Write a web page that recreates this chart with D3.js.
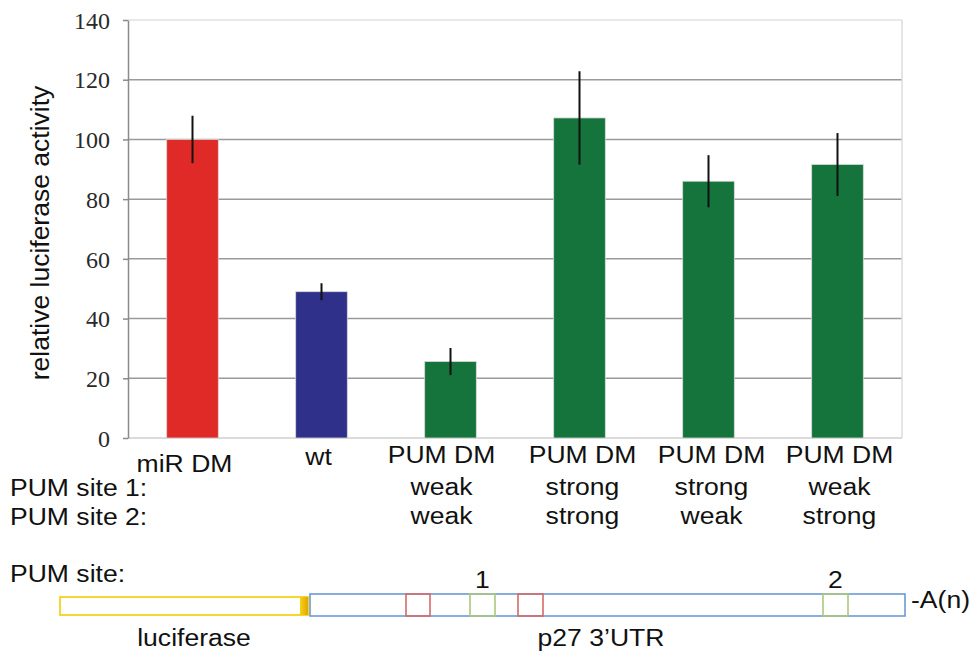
<!DOCTYPE html>
<html>
<head>
<meta charset="utf-8">
<script src="https://cdn.jsdelivr.net/npm/d3@7"></script>
<style>
  html, body { margin: 0; padding: 0; background: #fff; }
  svg { display: block; }
  .sans { font-family: "Liberation Sans", Arial, Helvetica, sans-serif; fill: #111; }
  .serif { font-family: "Liberation Serif", "Times New Roman", serif; fill: #2a2a2a; }
</style>
</head>
<body>
<svg id="chart" width="970" height="656"></svg>
<script>
// Relative luciferase activity of p27 3'UTR reporter constructs
const categories = ["miR DM", "wt", "PUM DM ww", "PUM DM ss", "PUM DM sw", "PUM DM ws"];
const nameLine = ["miR DM", "wt", "PUM DM", "PUM DM", "PUM DM", "PUM DM"];
const site1 = ["", "", "weak", "strong", "strong", "weak"];
const site2 = ["", "", "weak", "strong", "weak", "strong"];
const values = [100, 49, 25.6, 107.2, 86, 91.6];
const errors = [7.6, 2.5, 4.2, 15.3, 8.4, 10.2];
const barColors = ["#e02a27", "#2e3089", "#14743b", "#14743b", "#14743b", "#14743b"];
const yTicks = [0, 20, 40, 60, 80, 100, 120, 140];

// Construct schematic (positions along the reporter, arbitrary units)
const lucSegment = { start: 0, end: 248 };
const utrSegment = { start: 250, end: 845 };
const pumSites = [
  { label: "1", start: 410, end: 435 },
  { label: "2", start: 763, end: 788 }
];
const mirSites = [{ start: 346, end: 370 }, { start: 458, end: 483 }];

const svg = d3.select("#chart");
const stretch = 1.13;

function sansText(parent, x, y, str, anchor, size) {
  return parent.append("text")
    .attr("class", "sans")
    .attr("transform", `translate(${x},${y}) scale(${stretch},1)`)
    .attr("text-anchor", anchor)
    .style("font-size", (size || 23.5) + "px")
    .text(str);
}

const margin = { left: 128, right: 902, top: 20, bottom: 438 };

const x = d3.scaleBand()
  .domain(categories)
  .range([margin.left, margin.right])
  .paddingInner(0.6)
  .paddingOuter(0.3);

const y = d3.scaleLinear()
  .domain([0, 140])
  .range([margin.bottom, margin.top]);

// Gridlines
svg.append("g")
  .selectAll("line")
  .data(yTicks.filter(t => t > 0 && t < 140))
  .join("line")
  .attr("x1", margin.left).attr("x2", margin.right)
  .attr("y1", d => y(d)).attr("y2", d => y(d))
  .attr("stroke", "#9a9a9a").attr("stroke-width", 1.5);

// Plot frame (top and right light)
svg.append("line")
  .attr("x1", margin.left).attr("x2", margin.right)
  .attr("y1", y(140)).attr("y2", y(140))
  .attr("stroke", "#e4e0e0").attr("stroke-width", 1.5);
svg.append("line")
  .attr("x1", margin.right).attr("x2", margin.right)
  .attr("y1", y(140)).attr("y2", y(0))
  .attr("stroke", "#dcdcdc").attr("stroke-width", 1.5);
svg.append("line")
  .attr("x1", margin.left).attr("x2", margin.right)
  .attr("y1", y(0)).attr("y2", y(0))
  .attr("stroke", "#cfcfcf").attr("stroke-width", 1.5);

// Bars
svg.append("g")
  .selectAll("rect")
  .data(categories)
  .join("rect")
  .attr("x", d => x(d))
  .attr("width", x.bandwidth())
  .attr("y", (d, i) => y(values[i]))
  .attr("height", (d, i) => y(0) - y(values[i]))
  .attr("fill", (d, i) => barColors[i])
  .attr("stroke", "#d8d8d8")
  .attr("stroke-width", 0.8);

// Error bars
svg.append("g")
  .selectAll("line")
  .data(categories)
  .join("line")
  .attr("x1", d => x(d) + x.bandwidth() / 2)
  .attr("x2", d => x(d) + x.bandwidth() / 2)
  .attr("y1", (d, i) => y(values[i] + errors[i]))
  .attr("y2", (d, i) => y(values[i] - errors[i]))
  .attr("stroke", "#111")
  .attr("stroke-width", 2)
  .attr("stroke-linecap", "square");

// Y axis
const yAxis = d3.axisLeft(y).tickValues(yTicks).tickSize(5).tickPadding(13).tickSizeOuter(0);
const yg = svg.append("g")
  .attr("transform", `translate(${margin.left},0)`)
  .call(yAxis);
yg.attr("font-size", null).attr("font-family", null);
yg.select(".domain").attr("stroke", "#8a8a8a").attr("stroke-width", 1.5);
yg.selectAll(".tick line").attr("stroke", "#8a8a8a").attr("stroke-width", 1.5);
yg.selectAll(".tick text")
  .attr("class", "serif")
  .attr("fill", null)
  .style("font-size", "24px")
  .attr("dy", "0.34em");

// Y axis title
svg.append("text")
  .attr("class", "sans")
  .attr("transform", `translate(49,233) rotate(-90)`)
  .attr("text-anchor", "middle")
  .style("font-size", "26.5px")
  .text("relative luciferase activity");

// Category labels
const labelShift = [-8, -3, -9, 3, 3, 2];
const nameBaseline = [472, 465, 463, 463, 463, 463];
categories.forEach((c, i) => {
  const cx = x(c) + x.bandwidth() / 2 + labelShift[i];
  sansText(svg, cx, nameBaseline[i], nameLine[i], "middle");
  if (site1[i]) sansText(svg, cx, 495, site1[i], "middle");
  if (site2[i]) sansText(svg, cx, 524, site2[i], "middle");
});
sansText(svg, 10, 496, "PUM site 1:", "start");
sansText(svg, 10, 525, "PUM site 2:", "start");

// Construct schematic
const cx = d3.scaleLinear().domain([0, 845]).range([60, 905]);
const diag = svg.append("g");
sansText(diag, 10, 582, "PUM site:", "start");

const lucGrad = svg.append("defs").append("linearGradient")
  .attr("id", "lucEnd").attr("x1", "0").attr("x2", "1");
lucGrad.append("stop").attr("offset", "0").attr("stop-color", "#f6d21c");
lucGrad.append("stop").attr("offset", "1").attr("stop-color", "#e0a800");

diag.append("rect")
  .attr("x", cx(lucSegment.start)).attr("y", 597)
  .attr("width", cx(lucSegment.end) - cx(lucSegment.start)).attr("height", 18)
  .attr("fill", "none").attr("stroke", "#f7d21e").attr("stroke-width", 1.8);
diag.append("rect")
  .attr("x", cx(lucSegment.end) - 8).attr("y", 597)
  .attr("width", 8).attr("height", 18)
  .attr("fill", "url(#lucEnd)");

diag.append("rect")
  .attr("x", cx(utrSegment.start)).attr("y", 594)
  .attr("width", cx(utrSegment.end) - cx(utrSegment.start)).attr("height", 22)
  .attr("fill", "none").attr("stroke", "#6a9ad6").attr("stroke-width", 1.6);

diag.selectAll("rect.mir")
  .data(mirSites)
  .join("rect")
  .attr("class", "mir")
  .attr("x", d => cx(d.start)).attr("y", 594)
  .attr("width", d => cx(d.end) - cx(d.start)).attr("height", 22)
  .attr("fill", "none").attr("stroke", "#d66a68").attr("stroke-width", 1.6);

diag.selectAll("rect.pum")
  .data(pumSites)
  .join("rect")
  .attr("class", "pum")
  .attr("x", d => cx(d.start)).attr("y", 594)
  .attr("width", d => cx(d.end) - cx(d.start)).attr("height", 22)
  .attr("fill", "none").attr("stroke", "#a9c97c").attr("stroke-width", 1.6);

pumSites.forEach(d => {
  sansText(diag, (cx(d.start) + cx(d.end)) / 2, 588, d.label, "middle");
});

sansText(diag, 911, 608, "-A(n)", "start");
sansText(diag, 194, 646, "luciferase", "middle");
sansText(diag, 601, 646, "p27 3\u2019UTR", "middle");
</script>
</body>
</html>
